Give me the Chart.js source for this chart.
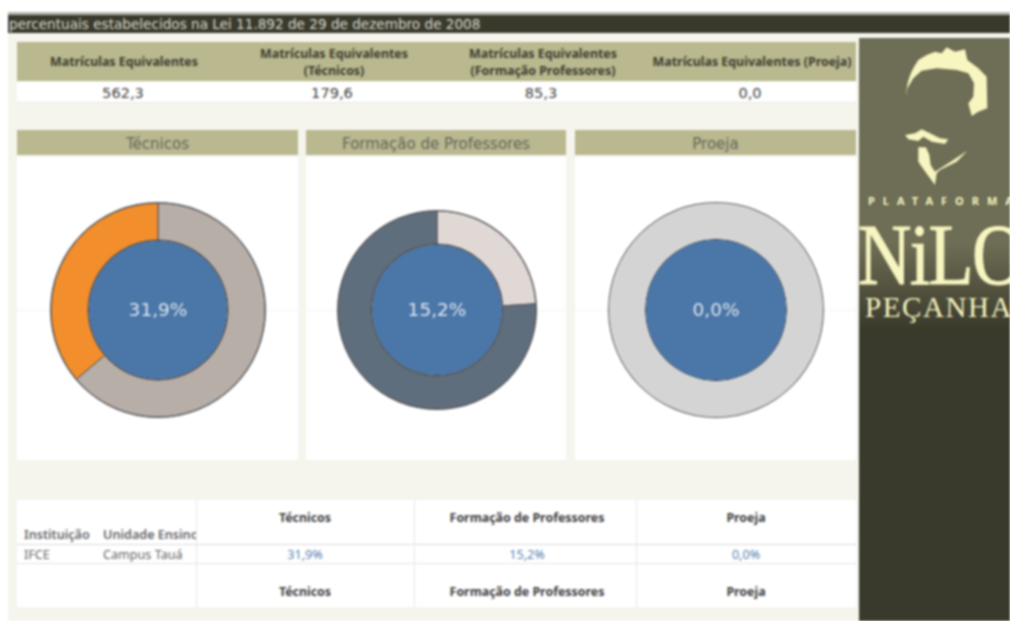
<!DOCTYPE html>
<html lang="pt"><head><meta charset="utf-8">
<script src="https://cdn.jsdelivr.net/npm/chart.js@4"></script>
<style>
html,body{margin:0;padding:0;background:#fff;overflow:hidden}
#page{position:relative;width:1010px;height:621px;overflow:hidden;filter:blur(0.85px);background:#fff;font-family:"DejaVu Sans",sans-serif}
#page div,#page canvas,#page svg{position:absolute}
.t{white-space:nowrap;text-align:center;transform:translateX(-50%)}
.h{font:bold 12.4px/14px "Noto Sans",sans-serif;color:#3e3e30}
.v{font:14.6px/16px "DejaVu Sans",sans-serif;color:#444}
.p{font:15px/18px "DejaVu Sans",sans-serif;color:#66665c}
.c{font:bold 12.4px/14px "Noto Sans",sans-serif;color:#3e3e40}
.l{font:12.6px/14px "Noto Sans",sans-serif;color:#66666a;white-space:nowrap;overflow:hidden}
</style></head><body><div id="page"></div>
<script>
const titleText = "percentuais estabelecidos na Lei 11.892 de 29 de dezembro de 2008";
const kpiLabels = [["Matrículas Equivalentes"],["Matrículas Equivalentes","(Técnicos)"],["Matrículas Equivalentes","(Formação Professores)"],["Matrículas Equivalentes (Proeja)"]];
const kpiValues = ["562,3","179,6","85,3","0,0"];
const categories = ["Técnicos","Formação de Professores","Proeja"];
const percentLabels = ["31,9%","15,2%","0,0%"];
const tecnicosValues = [63.8,36.2];
const tecnicosColors = ["#b8aea8","#f28e2b"];
const formacaoValues = [24,76];
const formacaoColors = ["#e0d8d4","#5f6e7c"];
const proejaValues = [100];
const proejaColors = ["#d4d4d4"];
const tableHead = ["Instituição","Unidade Ensino"];
const tableRow = ["IFCE","Campus Tauá"];

const page = document.getElementById('page');
function box(x,y,w,h,bg,extra){const d=document.createElement('div');d.style.cssText=`left:${x}px;top:${y}px;width:${w}px;height:${h}px;background:${bg};${extra||''}`;page.appendChild(d);return d;}
function text(s,x,y,cls,extra){const d=document.createElement('div');d.className=cls;d.textContent=s;d.style.cssText=`left:${x}px;top:${y}px;${extra||''}`;page.appendChild(d);return d;}

box(8,14,1002,607,'#f5f5ee');
box(8,12,1002,3,'#b4b4ac');
box(8,15,1002,18,'#3a3a2c');
text(titleText,9,16,'',"font:13.6px/17px 'DejaVu Sans';color:#d8d8d0;white-space:nowrap");

const kpiX=[124,334,543,752];
const kpiValueX=[123,332,541,750];
box(17,42,839,39,'#b9b88f');
box(17,82,839,20,'#fff');
box(17,102,839,1,'#e8e8e4');
kpiLabels.forEach((ls,i)=>{
  const y0=ls.length===1?54.5:46.5;
  ls.forEach((s,j)=>text(s,kpiX[i],y0+j*17,'t h'));
  text(kpiValues[i],kpiValueX[i],85,'t v');
});

const panelX=[[17,281],[306,260],[575,281]];
const centers=[[158,310,108,70],[437,310,100,66],[716,310,108,71]];
categories.forEach((c,i)=>{
  const [x,w]=panelX[i];
  box(x,130,w,25,'#b9b88f');
  box(x,157,w,303,'#fff');
  box(x,309.5,w,1,'#f4f4f0');
  text(c,x+w/2,135,'t p');
});

const seriesValues=[tecnicosValues,formacaoValues,proejaValues];
const seriesColors=[tecnicosColors,formacaoColors,proejaColors];
const percentValues=[31.9,15.2,0];
const outlineValue=[1];
const S=240;
categories.forEach((c,i)=>{
  const [cx,cy,R,r]=centers[i];
  const cv=document.createElement('canvas');
  cv.width=S;cv.height=S;
  cv.style.cssText=`left:${cx-S/2}px;top:${cy-S/2}px;width:${S}px;height:${S}px`;
  page.appendChild(cv);
  const single=seriesValues[i].length===1;
  new Chart(cv,{type:'doughnut',
    data:{labels:seriesValues[i].map((_,k)=>c+' '+k),datasets:[
      {data:outlineValue,backgroundColor:['#5a5a5e'],borderWidth:0,weight:1},
      {data:seriesValues[i],backgroundColor:seriesColors[i],borderColor:'#55555a',borderWidth:single?0:1,weight:R-r-1},
      {data:outlineValue,backgroundColor:['#2c3a4a'],borderWidth:0,weight:1},
      {data:[percentValues[i]||1],backgroundColor:['#4a76a8'],borderWidth:0,weight:r-1}
    ]},
    options:{responsive:false,animation:false,cutout:0,
      layout:{padding:(S-2*R)/2},
      plugins:{legend:{display:false},tooltip:{enabled:false}}
    },
    plugins:[{id:'center',afterDraw(ch){const g=ch.ctx;g.save();g.font='18.5px "DejaVu Sans"';g.fillStyle='#dfe6ee';g.textAlign='center';g.textBaseline='middle';g.fillText(percentLabels[i],S/2,S/2+1.5);g.restore();}}]
  });
});

box(17,500,839,107,'#fff');
box(17,544,839,1,'#dcdcdc');
box(17,563,839,1,'#e4e4e4');
[196,414,636].forEach(x=>box(x,500,1,107,'#e6e6e6'));
const colX=[305,527,746];
categories.forEach((c,i)=>{
  text(c,colX[i],511,'t c');
  text(percentLabels[i],colX[i],547.5,'t',"font:12.6px/14px 'Noto Sans';color:#5a82b0");
  text(c,colX[i],585,'t c');
});
text(tableHead[0],24,528,'l',"font-weight:600");
text(tableHead[1],103,528,'l',"font-weight:600;width:93px");
text(tableRow[0],24,547.5,'l');
text(tableRow[1],103,547.5,'l');

// sidebar logo
const side=box(859,38,151,583,'linear-gradient(#6e6d55 0,#6e6d55 205px,#3a3a2c 292px,#3a3a2c 100%)','overflow:hidden');
side.innerHTML=`<svg width="151" height="583" viewBox="859 38 151 583" style="left:0;top:0">
<g transform="translate(890,40) scale(0.3333)" fill="#f7f5c0">
<path d="M48 170 C50 120 65 90 85 60 L110 45 L135 35 L155 40 L170 22 L195 35 L225 28 L232 60 L265 85 L290 110 L292 205 L265 215 L245 228 L235 190 L250 170 L252 130 L235 100 L200 90 L140 85 L95 92 L70 115 L52 145Z"/>
<path d="M45 285 L75 280 L95 268 L120 280 L150 295 L175 298 L165 312 L125 305 L100 290 L85 303 L55 298Z"/>
<path d="M85 322 L108 322 L118 345 L122 375 L135 395 L175 370 L232 332 L200 365 L150 390 L140 400 L135 435 L120 415 L95 380 L85 365Z"/>
</g>
<g fill="#f7f5c0">
<text x="868" y="205" font-family="Noto Sans" font-weight="700" font-size="11" letter-spacing="8">PLATAFORMA</text>
<text transform="translate(858,284) scale(.86,1)" font-family="Liberation Serif" font-size="86" letter-spacing="-2" stroke="#f7f5c0" stroke-width="1">NiLO</text>
<text x="865" y="317" font-family="Liberation Serif" font-size="29" letter-spacing="1.6">PEÇANHA</text>
</g></svg>`;
</script></body></html>
